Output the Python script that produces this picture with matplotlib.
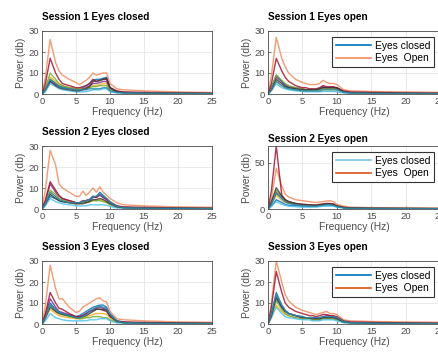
import matplotlib
matplotlib.use("Agg")
import matplotlib.pyplot as plt
from matplotlib.lines import Line2D

plt.rcParams['font.family'] = ['Liberation Sans', 'DejaVu Sans']

# frequency grid (Hz) shared by every curve
freqs = [0, 0.5, 1.2, 2, 2.5, 3, 4, 5, 5.5, 6, 6.5, 7, 7.5, 8, 8.5, 9, 9.5, 10, 11, 12, 15, 20, 25]

# MATLAB-like colour order, one per channel
chan_colors = ['#0072BD', '#F08A5D', '#EDB120', '#7E2F8E', '#77AC30',
               '#4DBEEE', '#A2142F', '#3a3a3a', '#2a8aa8']

s1_closed = [
    [0, 2, 7, 5, 4, 3.5, 3, 2.5, 2.5, 3, 4, 5, 6.5, 7, 7, 7.5, 8, 3, 1.2, 0.8, 0.5, 0.4, 0.3],
    [0, 8, 26, 15, 11, 9, 7, 5.5, 4.5, 5.5, 6.5, 8, 10, 9, 9.5, 10, 10, 5, 2.5, 2, 1.5, 1, 0.7],
    [0, 3, 8, 6, 4.5, 4, 3, 2.5, 2.5, 2.5, 3, 3.5, 4, 4, 4.5, 5, 5, 2, 1, 0.7, 0.4, 0.3, 0.2],
    [0, 2, 6, 4.5, 3.5, 3, 2.5, 2, 2, 2.5, 3, 4, 5, 5, 5.5, 6, 6, 2.5, 1, 0.6, 0.4, 0.3, 0.2],
    [0, 3, 10, 7, 5, 4, 3, 2.5, 2, 2, 2.5, 3, 3.5, 3.5, 4, 4, 4, 2, 1, 0.7, 0.5, 0.4, 0.3],
    [0, 1, 5, 3.5, 2.5, 2, 1.5, 1, 1, 1, 1.2, 1.5, 2, 2, 2, 2.5, 2.5, 1, 0.5, 0.4, 0.3, 0.2, 0.2],
    [0, 5, 17, 10, 7, 5, 4, 3, 3, 3.5, 4, 5, 7, 6, 6.5, 7, 7, 3, 1.5, 1, 0.8, 0.5, 0.4],
    [0, 2, 6, 4, 3, 2.5, 2, 1.5, 1.5, 2, 2.5, 3.5, 6, 6, 6.5, 7, 7.5, 3, 1, 0.6, 0.4, 0.3, 0.2],
    [0, 2, 7, 5, 3.5, 3, 2.5, 2, 2, 2, 2, 2.5, 2.5, 2.5, 2.5, 3, 3, 1.5, 0.7, 0.5, 0.4, 0.3, 0.2],
]

s1_open = [
    [0, 3, 9, 6, 4, 3, 2.5, 2, 2, 2, 2, 2, 2.5, 3, 3, 3, 3, 3, 1, 0.6, 0.4, 0.3, 0.2],
    [0, 9, 27, 17, 13, 10, 7, 5.5, 5, 4.5, 4.5, 4.5, 5, 6.5, 5.5, 5, 5, 4.5, 2, 1.5, 1.2, 1, 0.8],
    [0, 2, 6, 4, 3, 2.5, 2, 1.5, 1.5, 1.5, 1.5, 1.5, 1.5, 2, 2, 2, 2, 2, 0.8, 0.5, 0.4, 0.3, 0.2],
    [0, 3, 8, 6, 4.5, 3.5, 3, 2.5, 2, 2, 2, 2, 2.5, 3.5, 3, 3, 3, 2.5, 1, 0.6, 0.4, 0.3, 0.2],
    [0, 3, 9, 6.5, 5, 4, 3, 2.5, 2, 2, 2, 2, 2, 2.5, 2.5, 2.5, 2.5, 2, 0.8, 0.5, 0.4, 0.3, 0.2],
    [0, 1.5, 5, 3, 2.5, 2, 1.5, 1.2, 1, 1, 1, 1, 1, 1.2, 1.2, 1.2, 1.2, 1, 0.5, 0.3, 0.3, 0.2, 0.2],
    [0, 5, 17, 11, 8, 6, 4, 3, 3, 2.5, 2.5, 2.5, 3, 4, 3.5, 3.5, 3.5, 3, 1.5, 1, 0.8, 0.5, 0.4],
    [0, 2, 7, 5, 3.5, 3, 2.5, 2, 2, 2, 2, 2, 2.5, 3, 3, 3, 3, 3, 1, 0.6, 0.4, 0.3, 0.2],
    [0, 2, 6, 4, 3, 2.5, 2, 1.5, 1.5, 1.5, 1.5, 1.5, 1.5, 2, 2, 2, 2, 2, 0.8, 0.5, 0.3, 0.3, 0.2],
]

s2_closed = [
    [0, 2, 6, 5, 4, 3.5, 3, 2.5, 3, 3, 3.5, 4, 5.5, 6, 8, 6.5, 5, 3.5, 1.5, 0.8, 0.5, 0.4, 0.3],
    [0, 9, 28, 21, 12, 10, 8, 6, 6, 8.5, 6.5, 8, 10, 8, 10.5, 8, 6.5, 5, 3, 2, 1.5, 1, 0.8],
    [0, 3, 8, 6, 4.5, 4, 3, 2.5, 2.5, 3, 3, 3.5, 4, 4, 4.5, 4, 3.5, 2.5, 1, 0.7, 0.4, 0.3, 0.2],
    [0, 4, 12, 8, 6, 5, 4, 3, 3, 3.5, 4, 4.5, 6, 5.5, 6.5, 5.5, 4.5, 3, 1.2, 0.7, 0.4, 0.3, 0.2],
    [0, 3, 9, 7, 5, 4.5, 3.5, 3, 3, 3, 3, 3.5, 4, 4, 4, 3.5, 3, 2, 1, 0.7, 0.5, 0.4, 0.3],
    [0, 1.5, 5, 3.5, 3, 2.5, 2, 1.5, 1.5, 1.5, 1.5, 2, 2, 2, 2, 2, 1.8, 1.2, 0.5, 0.4, 0.3, 0.2, 0.2],
    [0, 4, 13, 9, 6.5, 5, 4, 3, 3, 4, 4, 4.5, 6, 5.5, 7, 5.5, 4.5, 3, 1.5, 1, 0.8, 0.5, 0.4],
    [0, 2.5, 7, 5, 4, 3.5, 3, 2.5, 2.5, 2.5, 3, 3.5, 4.5, 4.5, 5, 4.5, 3.5, 2.5, 1, 0.6, 0.4, 0.3, 0.2],
    [0, 2.5, 8, 6, 4.5, 4, 3, 3, 3, 3.5, 4, 4.5, 6, 6, 7, 6, 5, 3, 1.2, 0.6, 0.4, 0.3, 0.2],
]

s2_open = [
    [0, 3, 10, 7, 5, 4, 3.5, 3, 3, 3, 3, 3, 3.5, 4, 4.5, 4.5, 4, 3, 1.5, 1, 0.6, 0.5, 0.4],
    [0, 12, 44, 25, 16, 13, 10, 9, 8.5, 8, 7.5, 7, 7.5, 8, 8.5, 9, 8, 5, 3, 2, 1.5, 1, 0.8],
    [0, 5, 15, 9, 7, 6, 5, 4, 4, 4, 3.5, 3.5, 4, 5, 5.5, 5.5, 5, 3, 1.5, 1, 0.6, 0.5, 0.4],
    [0, 6, 18, 12, 8, 6.5, 5, 4, 4, 3.5, 3.5, 3.5, 4, 5, 5.5, 5, 4.5, 3, 1.5, 1, 0.6, 0.5, 0.4],
    [0, 7, 20, 13, 9, 7, 5.5, 4.5, 4, 4, 3.5, 3.5, 4, 5, 5, 5, 4.5, 3, 1.5, 1, 0.6, 0.5, 0.4],
    [0, 3, 8, 5, 4, 3, 2.5, 2, 2, 2, 2, 2, 2.5, 3, 3, 3, 3, 2, 1, 0.7, 0.5, 0.4, 0.3],
    [0, 20, 68, 15, 10, 8, 6, 5, 5, 4.5, 4.5, 4.5, 5, 5.5, 6, 6, 5.5, 3.5, 2, 1.2, 0.8, 0.6, 0.5],
    [0, 8, 23, 14, 10, 8, 6, 5, 4.5, 4.5, 4, 4, 4.5, 5, 5.5, 5.5, 5, 3, 1.5, 1, 0.6, 0.5, 0.4],
    [0, 5, 17, 11, 8, 6, 4.5, 3.5, 3.5, 3, 3, 3, 3.5, 4, 4.5, 4.5, 4, 2.5, 1.2, 0.8, 0.5, 0.4, 0.3],
]

s3_closed = [
    [0, 3, 10, 7, 5.5, 5, 4, 3.5, 4, 5, 6, 7, 8, 8.5, 9, 9, 8, 5, 1.5, 0.8, 0.5, 0.4, 0.3],
    [0, 9, 28, 17, 12, 12, 8, 5.5, 6, 8, 9, 10, 11, 12, 12.5, 11, 10.5, 6, 2.5, 2, 1.5, 1, 0.8],
    [0, 3, 7, 5, 4, 3.5, 3, 2.5, 2.5, 3, 3.5, 4, 4.5, 5, 5, 5, 4.5, 3, 1, 0.7, 0.4, 0.3, 0.2],
    [0, 4, 12, 8, 6, 5.5, 4.5, 3.5, 3.5, 4, 5, 6, 7, 7.5, 8, 7.5, 7, 4, 1.2, 0.7, 0.4, 0.3, 0.2],
    [0, 3, 9, 6, 5, 4.5, 3.5, 3, 2.5, 2.5, 3, 3, 3.5, 3.5, 3.5, 3, 3, 2, 1, 0.7, 0.5, 0.4, 0.3],
    [0, 1.5, 5, 3, 2.5, 2, 1.5, 1.5, 1.5, 1.5, 1.5, 2, 2, 2, 2.5, 2.5, 2.5, 1.5, 0.5, 0.4, 0.3, 0.2, 0.2],
    [0, 5, 15, 10, 7.5, 7, 5, 3.5, 3.5, 4, 5, 6, 6.5, 7, 7, 6.5, 6, 3.5, 1.5, 1, 0.8, 0.5, 0.4],
    [0, 3, 8, 6, 5, 4.5, 4, 3, 3, 3.5, 4, 5, 6, 7, 7, 7, 6.5, 4, 1.2, 0.6, 0.4, 0.3, 0.2],
    [0, 3, 9, 7, 5.5, 5, 4, 3, 3, 3.5, 4.5, 6, 7, 8, 8.5, 8, 7.5, 4.5, 1.5, 0.6, 0.4, 0.3, 0.2],
]

s3_open = [
    [0, 5, 15, 9, 6.5, 5, 4, 3.5, 3, 3, 3, 2.5, 2.5, 3, 3, 3, 3, 2.5, 1, 0.6, 0.4, 0.3, 0.2],
    [0, 10, 30, 20, 14, 11, 8, 6.5, 6, 5.5, 5, 4.5, 5, 5.5, 6, 5, 5, 4.5, 2, 1.5, 1.2, 1, 0.8],
    [0, 3, 9, 6, 4.5, 4, 3, 2.5, 2.5, 2.5, 2, 2, 2, 2.5, 2.5, 2.5, 2.5, 2, 0.8, 0.5, 0.4, 0.3, 0.2],
    [0, 4, 12, 8, 6, 5, 4, 3, 3, 3, 3, 3, 3, 3.5, 4, 4, 3.5, 3, 1.2, 0.6, 0.4, 0.3, 0.2],
    [0, 4, 11, 7, 5, 4, 3, 2.5, 2.5, 2.5, 2, 2, 2, 2.5, 2.5, 2.5, 2.5, 2, 0.8, 0.5, 0.4, 0.3, 0.2],
    [0, 3, 8, 5, 3.5, 3, 2.5, 2, 2, 2, 1.5, 1.5, 1.5, 2, 2, 2, 2, 1.5, 0.6, 0.4, 0.3, 0.2, 0.2],
    [0, 8, 25, 15, 10, 8, 6, 5, 4.5, 4, 4, 3.5, 4, 4.5, 4.5, 4, 4, 3.5, 1.5, 1, 0.8, 0.5, 0.4],
    [0, 4, 13, 8, 6, 5, 4, 3, 3, 3, 2.5, 2.5, 2.5, 3, 3, 3, 3, 2.5, 1, 0.6, 0.4, 0.3, 0.2],
    [0, 5, 14, 9, 6.5, 5, 4, 3.5, 3, 3, 3, 3, 3, 3.5, 3.5, 3.5, 3.5, 3, 1.2, 0.6, 0.4, 0.3, 0.2],
]

titles = ['Session 1 Eyes closed', 'Session 1 Eyes open',
          'Session 2 Eyes closed', 'Session 2 Eyes open',
          'Session 3 Eyes closed', 'Session 3 Eyes open']
panels = [s1_closed, s1_open, s2_closed, s2_open, s3_closed, s3_open]
ylims = [30, 30, 30, 68, 30, 30]
yticks = [[0, 10, 20, 30], [0, 10, 20, 30], [0, 10, 20, 30],
          [0, 50], [0, 10, 20, 30], [0, 10, 20, 30]]
legend_labels = ['Eyes closed', 'Eyes  Open']
legend_colors = [['#0072BD', '#F08A5D'], ['#7cc4e8', '#D95319'], ['#0072BD', '#D95319']]

W, H = 439, 354
fig = plt.figure(figsize=(W / 100, H / 100), dpi=100)

col_x = [42, 268]
col_w = [170, 172]
row_top = [31, 146, 261]
ax_h = 63
title_pad = [8, 8, 8, 3, 8, 8]

for i, (data, title) in enumerate(zip(panels, titles)):
    r, c = divmod(i, 2)
    ax = fig.add_axes([col_x[c] / W, 1 - (row_top[r] + ax_h) / H, col_w[c] / W, ax_h / H])
    for curve, col in zip(data, chan_colors):
        ax.plot(freqs, curve, color=col, lw=1.0, alpha=0.85)
    ax.set_xlim(0, 25)
    ax.set_ylim(0, ylims[i])
    ax.set_xticks([0, 5, 10, 15, 20, 25])
    ax.set_yticks(yticks[i])
    ax.grid(True, color='#e2e2e2', lw=0.5)
    ax.set_axisbelow(True)
    ax.tick_params(direction='in', length=2, width=0.5, labelsize=6.8,
                   labelcolor='#4d4d4d', color='#4d4d4d', pad=2)
    for sp in ax.spines.values():
        sp.set_color('#4d4d4d')
        sp.set_linewidth(0.6)
    ax.set_title(title, loc='left', fontsize=7.2, fontweight='bold', pad=title_pad[i])
    ax.set_xlabel('Frequency (Hz)', fontsize=7.4, color='#4d4d4d', labelpad=1)
    ax.set_ylabel('Power (db)', fontsize=7.4, color='#4d4d4d', labelpad=2)
    if c == 1:
        handles = [Line2D([], [], color=lc, lw=1.2) for lc in legend_colors[r]]
        leg = ax.legend(handles, legend_labels, loc='upper right', fontsize=7.4,
                        fancybox=False, framealpha=1, edgecolor='#333333',
                        handlelength=3.4, handletextpad=0.4, borderpad=0.35,
                        labelspacing=0.25, borderaxespad=0,
                        bbox_to_anchor=((434 - 268) / 172, 1 - 6 / 63))
        leg.get_frame().set_linewidth(0.8)

fig.savefig('out.png', dpi=100)
